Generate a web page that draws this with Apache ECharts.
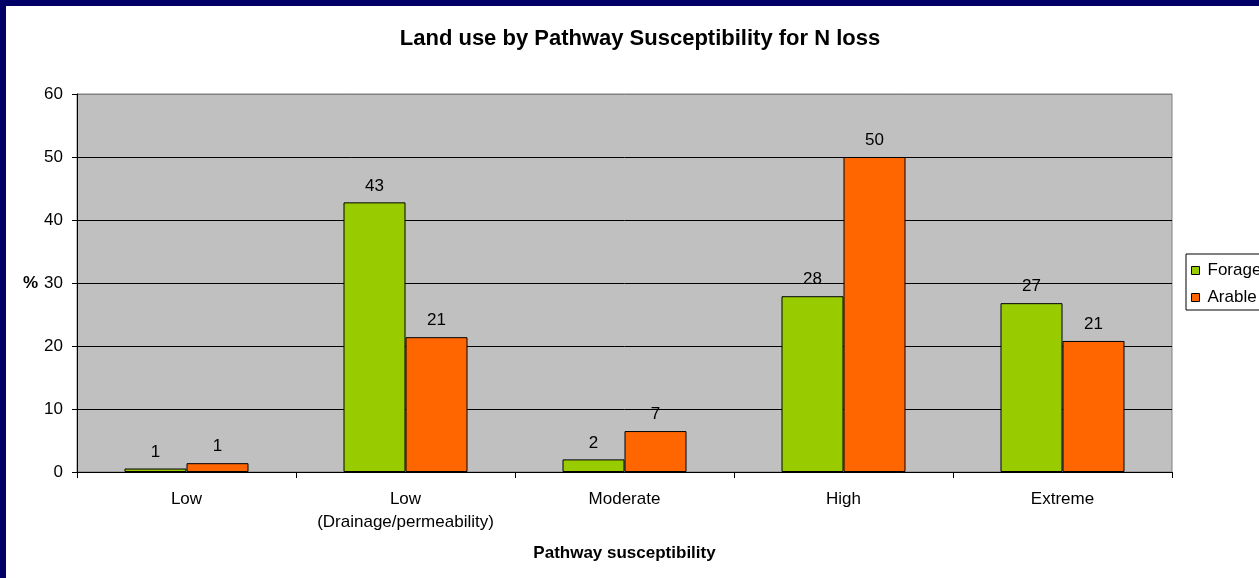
<!DOCTYPE html>
<html>
<head>
<meta charset="utf-8">
<script src="https://cdn.jsdelivr.net/npm/echarts@6/dist/echarts.min.js"></script>
<style>
html,body{margin:0;padding:0;background:#fff;}
#chart{width:1259px;height:578px;}
</style>
</head>
<body>
<div id="chart"></div>
<script>
const categories = ['Low', 'Low\n(Drainage/permeability)', 'Moderate', 'High', 'Extreme'];
const forage = [0.55, 42.8, 2.0, 27.9, 26.8];
const arable = [1.4, 21.4, 6.5, 50.0, 20.8];
const seriesNames = ['Forage', 'Arable'];
const titleText = 'Land use by Pathway Susceptibility for N loss';
const xName = 'Pathway susceptibility';
const yName = '%';

const FONT = "'Liberation Sans', Arial, sans-serif";
const chart = echarts.init(document.getElementById('chart'), null, {renderer: 'canvas'});

function barSeries(name, data, color) {
  return {
    name: name,
    type: 'bar',
    data: data,
    barWidth: 62,
    barGap: '0%',
    itemStyle: {color: color, borderColor: '#000', borderWidth: 1},
    label: {
      show: true, position: 'top', distance: 8,
      color: '#000', fontSize: 17, fontFamily: FONT,
      formatter: p => Math.round(p.value)
    }
  };
}

chart.setOption({
  animation: false,
  backgroundColor: '#fff',
  textStyle: {fontFamily: FONT},
  grid: {
    left: 77, right: 87, top: 94, bottom: 106,
    show: true, backgroundColor: '#C0C0C0', borderColor: '#808080', borderWidth: 1
  },
  legend: {
    data: seriesNames,
    orient: 'vertical',
    left: 1186, top: 254,
    backgroundColor: '#fff', borderColor: '#000', borderWidth: 1,
    padding: [8, 8, 4, 5],
    itemGap: 10,
    itemWidth: 8, itemHeight: 8,
    icon: 'rect',
    itemStyle: {borderColor: '#000', borderWidth: 1},
    textStyle: {fontSize: 17, color: '#000', fontFamily: FONT, padding: [0, 0, 0, 3]}
  },
  xAxis: {
    type: 'category',
    data: categories,
    name: xName,
    nameLocation: 'middle',
    nameGap: 73,
    nameTextStyle: {fontSize: 17, fontWeight: 'bold', color: '#000', fontFamily: FONT},
    axisLine: {lineStyle: {color: '#000', width: 1}},
    axisTick: {show: true, length: 6, lineStyle: {color: '#000'}},
    axisLabel: {fontSize: 17, color: '#000', lineHeight: 23, margin: 16, interval: 0, fontFamily: FONT},
    splitLine: {show: false}
  },
  yAxis: {
    type: 'value',
    min: 0, max: 60, interval: 10,
    name: yName,
    nameLocation: 'middle',
    nameRotate: 0,
    nameGap: 38,
    nameTextStyle: {fontSize: 17, fontWeight: 'bold', color: '#000', fontFamily: FONT, align: 'right'},
    axisLine: {show: true, lineStyle: {color: '#000', width: 1}},
    axisTick: {show: true, length: 5, lineStyle: {color: '#000'}},
    axisLabel: {fontSize: 17, color: '#000', margin: 14, fontFamily: FONT},
    splitLine: {show: true, lineStyle: {color: ['#000', '#000', '#000', '#000', '#000', '#000', '#808080'], width: 1}}
  },
  series: [
    barSeries(seriesNames[0], forage, '#99CC00'),
    barSeries(seriesNames[1], arable, '#FF6600')
  ],
  graphic: [
    {type: 'text', x: 640, y: 39, z: 100,
     style: {text: titleText, font: "bold 22px " + FONT, fill: '#000', textAlign: 'center', textVerticalAlign: 'middle'}},
    {type: 'rect', z: 100, shape: {x: 0, y: 0, width: 1259, height: 6}, style: {fill: '#000066'}},
    {type: 'rect', z: 100, shape: {x: 0, y: 0, width: 6, height: 578}, style: {fill: '#000066'}}
  ]
});
</script>
</body>
</html>
